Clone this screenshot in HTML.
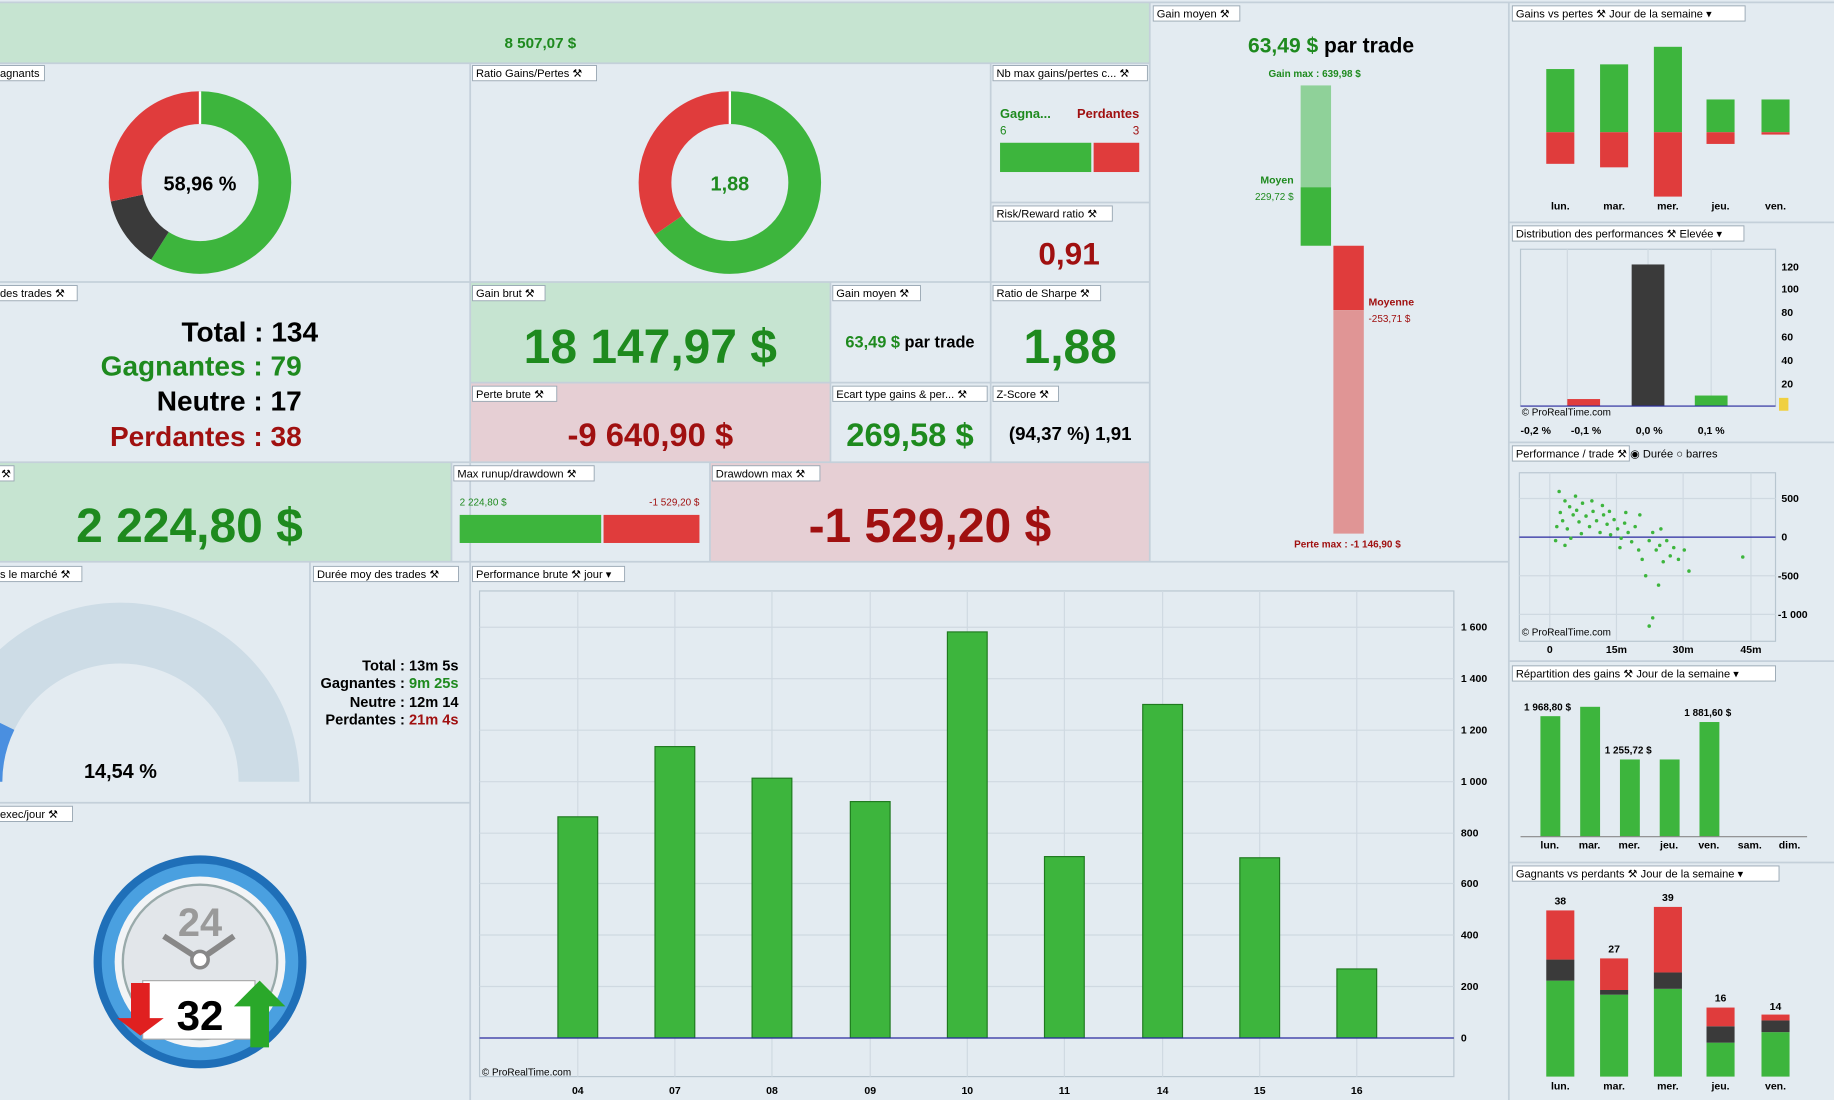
<!DOCTYPE html>
<html><head><meta charset="utf-8"><style>
html,body{margin:0;padding:0;background:#e3ebf1;overflow:hidden}
svg{display:block}
text{font-family:"Liberation Sans",sans-serif}
.h{font-size:9.5px;fill:#000}
.b{font-weight:bold}
</style></head><body>
<svg width="1834" height="1100" viewBox="0 0 1568 940" preserveAspectRatio="none" xmlns="http://www.w3.org/2000/svg">
<rect x="0" y="0" width="1568" height="940" fill="#e3ebf1"/>
<rect x="0" y="2" width="983" height="52" fill="#c6e4d1"/>
<rect x="402" y="241" width="308" height="86" fill="#c6e4d1"/>
<rect x="402" y="327" width="308" height="68" fill="#e6cfd4"/>
<rect x="0" y="395" width="386" height="85" fill="#c6e4d1"/>
<rect x="607" y="395" width="376" height="85" fill="#e6cfd4"/>
<g stroke="#c4d0da" stroke-width="1.5" fill="none">
<line x1="0" y1="2" x2="1568" y2="2"/>
<line x1="0" y1="54" x2="983" y2="54"/>
<line x1="402" y1="54" x2="402" y2="940"/>
<line x1="847" y1="54" x2="847" y2="395"/>
<line x1="847" y1="173" x2="983" y2="173"/>
<line x1="0" y1="241" x2="983" y2="241"/>
<line x1="710" y1="241" x2="710" y2="395"/>
<line x1="402" y1="327" x2="983" y2="327"/>
<line x1="0" y1="395" x2="983" y2="395"/>
<line x1="386" y1="395" x2="386" y2="480"/>
<line x1="607" y1="395" x2="607" y2="480"/>
<line x1="983" y1="2" x2="983" y2="480"/>
<line x1="0" y1="480" x2="1290" y2="480"/>
<line x1="265" y1="480" x2="265" y2="686"/>
<line x1="0" y1="686" x2="402" y2="686"/>
<line x1="1290" y1="2" x2="1290" y2="940"/>
<line x1="1290" y1="190" x2="1568" y2="190"/>
<line x1="1290" y1="378" x2="1568" y2="378"/>
<line x1="1290" y1="565" x2="1568" y2="565"/>
<line x1="1290" y1="737" x2="1568" y2="737"/>
</g>
<g fill="#fff" stroke="#9aa8b4" stroke-width="0.8">
<rect x="-2" y="56" width="40" height="13"/>
<rect x="404" y="56" width="106" height="13"/>
<rect x="849" y="56" width="132" height="13"/>
<rect x="849" y="176" width="102" height="13"/>
<rect x="-2" y="244" width="68" height="13"/>
<rect x="404" y="244" width="62" height="13"/>
<rect x="712" y="244" width="75" height="13"/>
<rect x="849" y="244" width="92" height="13"/>
<rect x="404" y="330" width="72" height="13"/>
<rect x="712" y="330" width="132" height="13"/>
<rect x="849" y="330" width="56" height="13"/>
<rect x="-2" y="398" width="14" height="13"/>
<rect x="388" y="398" width="120" height="13"/>
<rect x="609" y="398" width="92" height="13"/>
<rect x="986" y="5" width="74" height="13"/>
<rect x="-2" y="484" width="72" height="13"/>
<rect x="268" y="484" width="124" height="13"/>
<rect x="404" y="484" width="130" height="13"/>
<rect x="-2" y="689" width="64" height="13"/>
<rect x="1293" y="5" width="199" height="13"/>
<rect x="1293" y="193" width="198" height="13"/>
<rect x="1293" y="381" width="100" height="13"/>
<rect x="1293" y="569" width="225" height="13"/>
<rect x="1293" y="740" width="228" height="13"/>
</g>
<g class="h">
<text x="0" y="66" class="h">agnants</text>
<text x="407" y="66" class="h">Ratio Gains/Pertes  ⚒</text>
<text x="852" y="66" class="h">Nb max gains/pertes c... ⚒</text>
<text x="852" y="186" class="h">Risk/Reward ratio ⚒</text>
<text x="0" y="254" class="h">des trades ⚒</text>
<text x="407" y="254" class="h">Gain brut ⚒</text>
<text x="715" y="254" class="h">Gain moyen ⚒</text>
<text x="852" y="254" class="h">Ratio de Sharpe ⚒</text>
<text x="407" y="340" class="h">Perte brute ⚒</text>
<text x="715" y="340" class="h">Ecart type gains &amp; per... ⚒</text>
<text x="852" y="340" class="h">Z-Score ⚒</text>
<text x="1" y="408" class="h">⚒</text>
<text x="391" y="408" class="h">Max runup/drawdown ⚒</text>
<text x="612" y="408" class="h">Drawdown max ⚒</text>
<text x="989" y="15" class="h">Gain moyen ⚒</text>
<text x="0" y="494" class="h">s le marché ⚒</text>
<text x="271" y="494" class="h">Durée moy des trades ⚒</text>
<text x="407" y="494" class="h">Performance brute ⚒ jour ▾</text>
<text x="0" y="699" class="h">exec/jour ⚒</text>
<text x="1296" y="15" class="h">Gains vs pertes ⚒ Jour de la semaine ▾</text>
<text x="1296" y="203" class="h">Distribution des performances ⚒ Elevée ▾</text>
<text x="1296" y="391" class="h">Performance / trade ⚒  ◉ Durée  ○ barres</text>
<text x="1296" y="579" class="h">Répartition des gains ⚒ Jour de la semaine ▾</text>
<text x="1296" y="750" class="h">Gagnants vs perdants ⚒ Jour de la semaine ▾</text>
</g>
<text x="462" y="41" text-anchor="middle" font-size="13" class="b" fill="#1e8a1e">8 507,07 $</text>
<g transform="rotate(-90 171 156)" fill="none" stroke-width="28">
<circle cx="171" cy="156" r="64" stroke="#3db53d" stroke-dasharray="237.1 402.1"/>
<circle cx="171" cy="156" r="64" stroke="#3a3a3a" stroke-dasharray="51 402.1" stroke-dashoffset="-237.1"/>
<circle cx="171" cy="156" r="64" stroke="#e03c3c" stroke-dasharray="114 402.1" stroke-dashoffset="-288.1"/>
</g>
<line x1="171" y1="78" x2="171" y2="106" stroke="#fff" stroke-width="2"/>
<text x="171" y="163" text-anchor="middle" font-size="17" class="b" fill="#000">58,96 %</text>
<g transform="rotate(-90 624 156)" fill="none" stroke-width="28">
<circle cx="624" cy="156" r="64" stroke="#3db53d" stroke-dasharray="262.6 402.1"/>
<circle cx="624" cy="156" r="64" stroke="#e03c3c" stroke-dasharray="139.5 402.1" stroke-dashoffset="-262.6"/>
</g>
<line x1="624" y1="78" x2="624" y2="106" stroke="#fff" stroke-width="2"/>
<text x="624" y="163" text-anchor="middle" font-size="17" class="b" fill="#1e8a1e">1,88</text>
<text x="855" y="101" font-size="11" class="b" fill="#1e8a1e">Gagna...</text>
<text x="855" y="115" font-size="10" fill="#1e8a1e">6</text>
<text x="974" y="101" font-size="11" class="b" fill="#a01010" text-anchor="end">Perdantes</text>
<text x="974" y="115" font-size="10" fill="#a01010" text-anchor="end">3</text>
<rect x="855" y="122" width="78" height="25" fill="#3db53d"/>
<rect x="935" y="122" width="39" height="25" fill="#e03c3c"/>
<text x="914" y="226" text-anchor="middle" font-size="27" class="b" fill="#a01010">0,91</text>
<g font-size="24" class="b">
<text x="272" y="292" text-anchor="end" fill="#000">Total : 134</text>
<text x="258" y="321" text-anchor="end" fill="#1e8a1e">Gagnantes : 79</text>
<text x="258" y="351" text-anchor="end" fill="#000">Neutre : 17</text>
<text x="258" y="381" text-anchor="end" fill="#a01010">Perdantes : 38</text>
</g>
<text x="556" y="310" text-anchor="middle" font-size="41" class="b" fill="#1e8a1e">18 147,97 $</text>
<text x="778" y="297" text-anchor="middle" font-size="14" class="b"><tspan fill="#1e8a1e">63,49 $</tspan><tspan fill="#000"> par trade</tspan></text>
<text x="915" y="310" text-anchor="middle" font-size="41" class="b" fill="#1e8a1e">1,88</text>
<text x="556" y="381" text-anchor="middle" font-size="28" class="b" fill="#a01010">-9 640,90 $</text>
<text x="778" y="381" text-anchor="middle" font-size="28" class="b" fill="#1e8a1e">269,58 $</text>
<text x="915" y="376" text-anchor="middle" font-size="16" class="b" fill="#000">(94,37 %) 1,91</text>
<text x="162" y="463" text-anchor="middle" font-size="41" class="b" fill="#1e8a1e">2 224,80 $</text>
<text x="393" y="432" font-size="8.5" fill="#1e8a1e">2 224,80 $</text>
<text x="598" y="432" font-size="8.5" fill="#a01010" text-anchor="end">-1 529,20 $</text>
<rect x="393" y="440" width="121" height="24" fill="#3db53d"/>
<rect x="516" y="440" width="82" height="24" fill="#e03c3c"/>
<text x="795" y="463" text-anchor="middle" font-size="41" class="b" fill="#a01010">-1 529,20 $</text>
<text x="1138" y="45" text-anchor="middle" font-size="18" class="b"><tspan fill="#1e8a1e">63,49 $</tspan><tspan fill="#000"> par trade</tspan></text>
<text x="1124" y="66" text-anchor="middle" font-size="8.5" class="b" fill="#1e8a1e">Gain max : 639,98 $</text>
<rect x="1112" y="73" width="26" height="87" fill="#8fd199"/>
<rect x="1112" y="160" width="26" height="50" fill="#3db53d"/>
<rect x="1140" y="210" width="26" height="55" fill="#e03c3c"/>
<rect x="1140" y="265" width="26" height="191" fill="#e09595"/>
<text x="1106" y="157" text-anchor="end" font-size="9" class="b" fill="#1e8a1e">Moyen</text>
<text x="1106" y="171" text-anchor="end" font-size="8.5" fill="#1e8a1e">229,72 $</text>
<text x="1170" y="261" font-size="9" class="b" fill="#a01010">Moyenne</text>
<text x="1170" y="275" font-size="8.5" fill="#a01010">-253,71 $</text>
<text x="1152" y="468" text-anchor="middle" font-size="8.5" class="b" fill="#a01010">Perte max : -1 146,90 $</text>
<path d="M -24 668 A 127 127 0 0 1 230 668" fill="none" stroke="#cddce6" stroke-width="52"/>
<path d="M -24 668 A 127 127 0 0 1 -11.1 612.3" fill="none" stroke="#4a8fe0" stroke-width="52"/>
<text x="103" y="665" text-anchor="middle" font-size="17" class="b" fill="#000">14,54 %</text>
<g font-size="12.5" class="b" text-anchor="end">
<text x="392" y="573" fill="#000">Total : 13m 5s</text>
<text x="392" y="588"><tspan fill="#000">Gagnantes : </tspan><tspan fill="#1e8a1e">9m 25s</tspan></text>
<text x="392" y="604" fill="#000">Neutre : 12m 14</text>
<text x="392" y="619"><tspan fill="#000">Perdantes : </tspan><tspan fill="#a01010">21m 4s</tspan></text>
</g>
<circle cx="171" cy="822" r="91" fill="#1f6fb8"/>
<circle cx="171" cy="822" r="84" fill="#4aa0e0"/>
<circle cx="171" cy="822" r="73" fill="#f2f4f6"/>
<circle cx="171" cy="822" r="66" fill="#e2e6ea" stroke="#9aa" stroke-width="2"/>
<text x="171" y="800" text-anchor="middle" font-size="34" class="b" fill="#9a9a9a">24</text>
<line x1="171" y1="820" x2="140" y2="800" stroke="#888" stroke-width="5"/>
<line x1="171" y1="820" x2="200" y2="800" stroke="#888" stroke-width="5"/>
<circle cx="171" cy="820" r="7" fill="#fff" stroke="#888" stroke-width="3"/>
<rect x="122" y="838" width="96" height="50" fill="#fff" stroke="#aaa"/>
<path d="M 100 850 L 120 835 L 140 850 L 128 850 L 128 880 L 112 880 L 112 850 Z" fill="#e02020" transform="rotate(180 120 860)"/>
<path d="M 200 860 L 222 838 L 244 860 L 230 860 L 230 895 L 214 895 L 214 860 Z" fill="#2aa82a"/>
<text x="171" y="880" text-anchor="middle" font-size="36" class="b" fill="#000">32</text>
<rect x="410" y="505" width="833" height="415" fill="#e3ebf1" stroke="#b8c6d0"/>
<g stroke="#cfd9e1" stroke-width="1">
<line x1="410" y1="536" x2="1243" y2="536"/><line x1="410" y1="580" x2="1243" y2="580"/>
<line x1="410" y1="624" x2="1243" y2="624"/><line x1="410" y1="668" x2="1243" y2="668"/>
<line x1="410" y1="712" x2="1243" y2="712"/><line x1="410" y1="755" x2="1243" y2="755"/>
<line x1="410" y1="799" x2="1243" y2="799"/><line x1="410" y1="843" x2="1243" y2="843"/>
<line x1="494" y1="505" x2="494" y2="920"/><line x1="577" y1="505" x2="577" y2="920"/>
<line x1="660" y1="505" x2="660" y2="920"/><line x1="744" y1="505" x2="744" y2="920"/>
<line x1="827" y1="505" x2="827" y2="920"/><line x1="910" y1="505" x2="910" y2="920"/>
<line x1="994" y1="505" x2="994" y2="920"/><line x1="1077" y1="505" x2="1077" y2="920"/>
<line x1="1160" y1="505" x2="1160" y2="920"/>
</g>
<g fill="#3db53d" stroke="#1f7a1f" stroke-width="1">
<rect x="477" y="698" width="34" height="189"/>
<rect x="560" y="638" width="34" height="249"/>
<rect x="643" y="665" width="34" height="222"/>
<rect x="727" y="685" width="34" height="202"/>
<rect x="810" y="540" width="34" height="347"/>
<rect x="893" y="732" width="34" height="155"/>
<rect x="977" y="602" width="34" height="285"/>
<rect x="1060" y="733" width="34" height="154"/>
<rect x="1143" y="828" width="34" height="59"/>
</g>
<line x1="410" y1="887" x2="1243" y2="887" stroke="#2a2aa0" stroke-width="1"/>
<g font-size="9" class="b" fill="#000">
<text x="1249" y="539">1 600</text><text x="1249" y="583">1 400</text><text x="1249" y="627">1 200</text>
<text x="1249" y="671">1 000</text><text x="1249" y="715">800</text><text x="1249" y="758">600</text>
<text x="1249" y="802">400</text><text x="1249" y="846">200</text><text x="1249" y="890">0</text>
</g>
<g font-size="9" class="b" fill="#000" text-anchor="middle">
<text x="494" y="935">04</text><text x="577" y="935">07</text><text x="660" y="935">08</text>
<text x="744" y="935">09</text><text x="827" y="935">10</text><text x="910" y="935">11</text>
<text x="994" y="935">14</text><text x="1077" y="935">15</text><text x="1160" y="935">16</text>
</g>
<text x="412" y="919" font-size="8.5" fill="#000">© ProRealTime.com</text>
<g fill="#3db53d"><rect x="1322" y="59" width="24" height="54"/><rect x="1368" y="55" width="24" height="58"/><rect x="1414" y="40" width="24" height="73"/><rect x="1459" y="85" width="24" height="28"/><rect x="1506" y="85" width="24" height="28"/></g>
<g fill="#e03c3c"><rect x="1322" y="113" width="24" height="27"/><rect x="1368" y="113" width="24" height="30"/><rect x="1414" y="113" width="24" height="55"/><rect x="1459" y="113" width="24" height="10"/><rect x="1506" y="113" width="24" height="2"/></g>
<g font-size="9" class="b" fill="#000" text-anchor="middle"><text x="1334" y="179">lun.</text><text x="1380" y="179">mar.</text><text x="1426" y="179">mer.</text><text x="1471" y="179">jeu.</text><text x="1518" y="179">ven.</text></g>
<rect x="1300" y="213" width="218" height="134" fill="#e3ebf1" stroke="#b8c6d0"/>
<g stroke="#cfd9e1"><line x1="1340" y1="213" x2="1340" y2="347"/><line x1="1409" y1="213" x2="1409" y2="347"/><line x1="1463" y1="213" x2="1463" y2="347"/></g>
<rect x="1340" y="341" width="28" height="6" fill="#e03c3c"/>
<rect x="1395" y="226" width="28" height="121" fill="#3a3a3a"/>
<rect x="1449" y="338" width="28" height="9" fill="#3db53d"/>
<line x1="1300" y1="347" x2="1518" y2="347" stroke="#2a2aa0"/>
<g font-size="9" class="b" fill="#000"><text x="1523" y="231">120</text><text x="1523" y="250">100</text><text x="1523" y="270">80</text><text x="1523" y="291">60</text><text x="1523" y="311">40</text><text x="1523" y="331">20</text></g>
<rect x="1521" y="340" width="8" height="11" fill="#f0d040"/>
<text x="1301" y="355" font-size="8.5" fill="#000">© ProRealTime.com</text>
<g font-size="9" class="b" fill="#000" text-anchor="middle"><text x="1313" y="371">-0,2 %</text><text x="1356" y="371">-0,1 %</text><text x="1410" y="371">0,0 %</text><text x="1463" y="371">0,1 %</text></g>
<rect x="1299" y="404" width="219" height="144" fill="#e3ebf1" stroke="#b8c6d0"/>
<g stroke="#cfd9e1"><line x1="1325" y1="404" x2="1325" y2="548"/><line x1="1382" y1="404" x2="1382" y2="548"/><line x1="1439" y1="404" x2="1439" y2="548"/><line x1="1497" y1="404" x2="1497" y2="548"/><line x1="1299" y1="426" x2="1518" y2="426"/><line x1="1299" y1="492" x2="1518" y2="492"/><line x1="1299" y1="525" x2="1518" y2="525"/></g>
<line x1="1299" y1="459" x2="1518" y2="459" stroke="#2a2aa0"/>
<g fill="#3db53d">
<circle cx="1333" cy="420" r="1.5"/><circle cx="1338" cy="428" r="1.5"/><circle cx="1342" cy="433" r="1.5"/><circle cx="1345" cy="440" r="1.5"/><circle cx="1336" cy="445" r="1.5"/><circle cx="1331" cy="450" r="1.5"/><circle cx="1340" cy="452" r="1.5"/><circle cx="1348" cy="436" r="1.5"/><circle cx="1350" cy="446" r="1.5"/><circle cx="1353" cy="430" r="1.5"/><circle cx="1356" cy="441" r="1.5"/><circle cx="1359" cy="450" r="1.5"/><circle cx="1362" cy="437" r="1.5"/><circle cx="1365" cy="445" r="1.5"/><circle cx="1368" cy="455" r="1.5"/><circle cx="1371" cy="440" r="1.5"/><circle cx="1374" cy="448" r="1.5"/><circle cx="1377" cy="457" r="1.5"/><circle cx="1380" cy="444" r="1.5"/><circle cx="1383" cy="452" r="1.5"/><circle cx="1386" cy="460" r="1.5"/><circle cx="1389" cy="447" r="1.5"/><circle cx="1392" cy="455" r="1.5"/><circle cx="1395" cy="463" r="1.5"/><circle cx="1398" cy="450" r="1.5"/><circle cx="1401" cy="470" r="1.5"/><circle cx="1404" cy="478" r="1.5"/><circle cx="1407" cy="492" r="1.5"/><circle cx="1410" cy="462" r="1.5"/><circle cx="1413" cy="455" r="1.5"/><circle cx="1416" cy="470" r="1.5"/><circle cx="1419" cy="466" r="1.5"/><circle cx="1422" cy="480" r="1.5"/><circle cx="1425" cy="462" r="1.5"/><circle cx="1428" cy="475" r="1.5"/><circle cx="1431" cy="468" r="1.5"/><circle cx="1435" cy="478" r="1.5"/><circle cx="1440" cy="470" r="1.5"/><circle cx="1444" cy="488" r="1.5"/><circle cx="1413" cy="528" r="1.5"/><circle cx="1410" cy="535" r="1.5"/><circle cx="1418" cy="500" r="1.5"/><circle cx="1490" cy="476" r="1.5"/><circle cx="1334" cy="438" r="1.5"/><circle cx="1343" cy="460" r="1.5"/><circle cx="1352" cy="456" r="1.5"/><circle cx="1361" cy="428" r="1.5"/><circle cx="1370" cy="432" r="1.5"/><circle cx="1376" cy="437" r="1.5"/><circle cx="1390" cy="438" r="1.5"/><circle cx="1330" cy="462" r="1.5"/><circle cx="1338" cy="466" r="1.5"/><circle cx="1347" cy="424" r="1.5"/><circle cx="1402" cy="440" r="1.5"/><circle cx="1420" cy="452" r="1.5"/><circle cx="1385" cy="468" r="1.5"/>
</g>
<g font-size="9" class="b" fill="#000"><text x="1523" y="429">500</text><text x="1523" y="462">0</text><text x="1520" y="495">-500</text><text x="1520" y="528">-1 000</text></g>
<text x="1301" y="543" font-size="8.5" fill="#000">© ProRealTime.com</text>
<g font-size="9" class="b" fill="#000" text-anchor="middle"><text x="1325" y="558">0</text><text x="1382" y="558">15m</text><text x="1439" y="558">30m</text><text x="1497" y="558">45m</text></g>
<g fill="#3db53d"><rect x="1317" y="612" width="17" height="103"/><rect x="1351" y="604" width="17" height="111"/><rect x="1385" y="649" width="17" height="66"/><rect x="1419" y="649" width="17" height="66"/><rect x="1453" y="617" width="17" height="98"/></g>
<line x1="1300" y1="715" x2="1545" y2="715" stroke="#888"/>
<g font-size="8.5" class="b" fill="#000"><text x="1303" y="607">1 968,80 $</text><text x="1372" y="644">1 255,72 $</text><text x="1440" y="612">1 881,60 $</text></g>
<g font-size="9" class="b" fill="#000" text-anchor="middle"><text x="1325" y="725">lun.</text><text x="1359" y="725">mar.</text><text x="1393" y="725">mer.</text><text x="1427" y="725">jeu.</text><text x="1461" y="725">ven.</text><text x="1496" y="725">sam.</text><text x="1530" y="725">dim.</text></g>
<g fill="#3db53d"><rect x="1322" y="838" width="24" height="82"/><rect x="1368" y="850" width="24" height="70"/><rect x="1414" y="845" width="24" height="75"/><rect x="1459" y="891" width="24" height="29"/><rect x="1506" y="882" width="24" height="38"/></g>
<g fill="#3a3a3a"><rect x="1322" y="820" width="24" height="18"/><rect x="1368" y="846" width="24" height="4"/><rect x="1414" y="831" width="24" height="14"/><rect x="1459" y="877" width="24" height="14"/><rect x="1506" y="872" width="24" height="10"/></g>
<g fill="#e03c3c"><rect x="1322" y="778" width="24" height="42"/><rect x="1368" y="819" width="24" height="27"/><rect x="1414" y="775" width="24" height="56"/><rect x="1459" y="861" width="24" height="16"/><rect x="1506" y="867" width="24" height="5"/></g>
<g font-size="9" class="b" fill="#000" text-anchor="middle"><text x="1334" y="773">38</text><text x="1380" y="814">27</text><text x="1426" y="770">39</text><text x="1471" y="856">16</text><text x="1518" y="863">14</text>
<text x="1334" y="931">lun.</text><text x="1380" y="931">mar.</text><text x="1426" y="931">mer.</text><text x="1471" y="931">jeu.</text><text x="1518" y="931">ven.</text></g>
</svg>
</body></html>
